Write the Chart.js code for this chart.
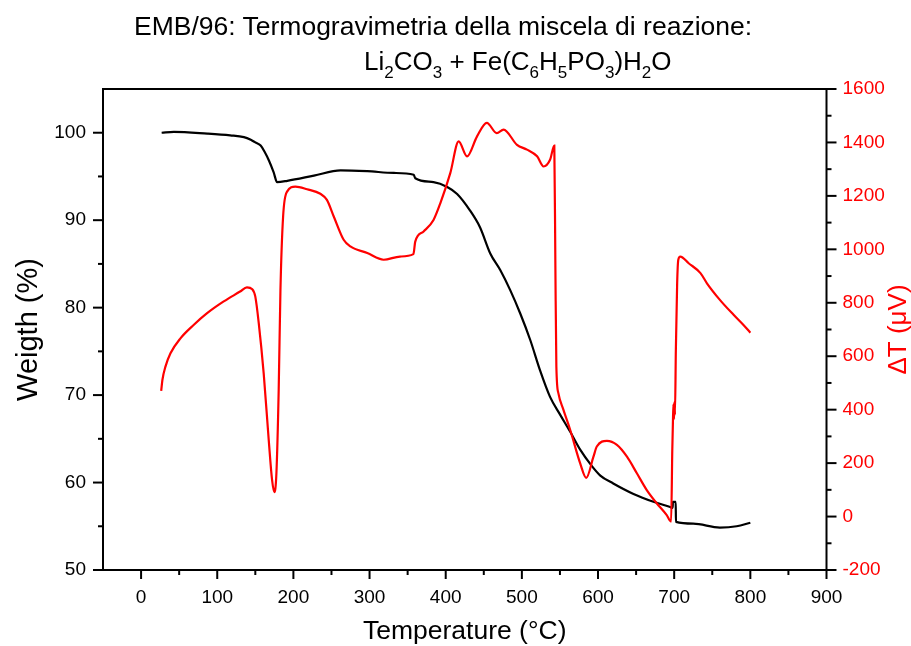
<!DOCTYPE html>
<html>
<head>
<meta charset="utf-8">
<title>EMB/96 - Termogravimetria</title>
<script src="https://cdn.jsdelivr.net/npm/chart.js"></script>
<style>
  body { margin: 0; background: #fff; }
  #wrap { position: relative; width: 911px; height: 646px; }
  #tga { display: block; }
  .titolo {
    position: absolute;
    font-family: "Liberation Sans", Arial, sans-serif;
    font-size: 26.5px;
    line-height: 26px;
    color: #000;
    white-space: nowrap;
  }
  .titolo sub { font-size: 17px; vertical-align: -8px; line-height: 0; }
</style>
</head>
<body>
<div id="wrap">
  <canvas id="tga" width="911" height="646"></canvas>
  <div class="titolo" style="left:134px; top:13px">EMB/96: Termogravimetria della miscela di reazione:</div>
  <div class="titolo" style="left:364px; top:48px; font-size:26px">Li<sub>2</sub>CO<sub>3</sub> + Fe(C<sub>6</sub>H<sub>5</sub>PO<sub>3</sub>)H<sub>2</sub>O</div>
</div>

<script>
// curva TG (peso %)
const temperaturaTG = [27, 43, 87, 117, 135, 144, 150, 157, 162, 168, 174, 178.6, 192, 227, 262, 297, 332, 358, 360,
  384, 402, 415, 432, 445, 458.5, 471.6, 484.7, 498, 511, 524, 537, 550, 563.5, 577, 590, 603, 620, 646.6, 672.8,
  694.7, 698, 698.3, 702, 702.3, 725, 760, 782, 800];
const pesoTG = [100.0, 100.1, 99.9, 99.7, 99.5, 99.2, 98.9, 98.55, 97.85, 96.8, 95.5, 94.35, 94.5, 95.1, 95.7, 95.6, 95.4, 95.2, 94.8,
  94.35, 93.8, 93.0, 91.1, 89.2, 86.2, 84.3, 82.0, 79.3, 76.3, 72.8, 69.8, 67.8, 65.8, 63.7, 62.1, 60.8, 59.9, 58.7, 57.8,
  57.2, 57.1, 57.8, 57.8, 55.5, 55.3, 54.85, 55.0, 55.4];

// curva DTA (delta T, microvolt)
const temperaturaDTA = [26.4, 28, 32, 38.6, 51.7, 69, 86.7, 108.5, 130, 139, 146, 150, 154.5, 161, 167.6, 172, 175, 177.7,
  180.7, 183, 186.5, 191.7, 202.6, 218, 235.4, 244, 253, 266, 274.8, 297, 318.5, 340, 357.6, 360, 371, 384, 393, 406, 417,
  428, 441, 454, 467, 476, 493.6, 506.7, 520, 528.5, 537, 542.6, 544, 545.3, 548, 554.6, 563.5, 576.6, 584.5, 594, 598.4,
  611.7, 624.8, 638, 651, 664, 677, 690, 696, 697.5, 698.3, 699, 699.8, 700.5, 701, 702.2, 703.9, 705.4, 708, 719, 734.5,
  743, 760, 778, 791, 800];
const deltaT = [470, 511, 561, 611, 667, 717, 761, 805, 842, 858, 851, 823, 724, 536, 287, 137, 91, 162,
  474, 848, 1123, 1216, 1235, 1225, 1208, 1185, 1123, 1036, 1011, 986, 961, 973, 982, 1029, 1067, 1110, 1173, 1285, 1404,
  1348, 1422, 1473, 1435, 1448, 1391, 1373, 1348, 1310, 1335, 1388, 936, 561, 461, 399, 324, 199, 145, 224, 262,
  283, 268, 224, 162, 99, 50, 6, -19, 248, 349, 420, 365, 430, 380, 624, 873, 961, 973, 948, 911,
  873, 811, 755, 717, 688];

// tacche principali degli assi
const tickTemp = [0, 100, 200, 300, 400, 500, 600, 700, 800, 900];
const tickPeso = [50, 60, 70, 80, 90, 100];
const tickDT = [-200, 0, 200, 400, 600, 800, 1000, 1200, 1400, 1600];

const FONT = '"Liberation Sans", Arial, sans-serif';
const ROSSO = '#ff0000';

// tacche secondarie a metà fra le principali, entro i limiti dell'asse
function minori(maggiori, min, max) {
  const passo = maggiori[1] - maggiori[0];
  const out = [];
  maggiori.forEach(v => {
    const m = v + passo / 2;
    if (m > min && m < max) out.push(m);
  });
  return out;
}

// cornice e tacche stile Origin
const cornice = {
  id: 'cornice',
  afterDatasetsDraw(chart) {
    const { ctx, chartArea: a, scales } = chart;
    const segno = (x1, y1, x2, y2) => {
      ctx.beginPath(); ctx.moveTo(x1, y1); ctx.lineTo(x2, y2); ctx.stroke();
    };
    ctx.save();
    ctx.strokeStyle = '#000';
    ctx.lineWidth = 2;
    ctx.lineCap = 'square';
    ctx.strokeRect(a.left, a.top, a.right - a.left, a.bottom - a.top);

    const x = scales.x, yp = scales.yPeso, yd = scales.yDT;
    ctx.lineCap = 'butt';
    tickTemp.forEach(v => { const p = x.getPixelForValue(v); segno(p, a.bottom, p, a.bottom + 9); });
    minori(tickTemp, x.min, x.max).forEach(v => { const p = x.getPixelForValue(v); segno(p, a.bottom, p, a.bottom + 5); });
    tickPeso.forEach(v => { const p = yp.getPixelForValue(v); segno(a.left - 10, p, a.left, p); });
    minori(tickPeso, yp.min, yp.max).forEach(v => { const p = yp.getPixelForValue(v); segno(a.left - 5, p, a.left, p); });
    tickDT.forEach(v => { const p = yd.getPixelForValue(v); segno(a.right, p, a.right + 10, p); });
    minori(tickDT, yd.min, yd.max).forEach(v => { const p = yd.getPixelForValue(v); segno(a.right, p, a.right + 5, p); });

    // titolo asse destro, ruotato come quello sinistro
    ctx.translate(899, (a.top + a.bottom) / 2);
    ctx.rotate(-Math.PI / 2);
    ctx.fillStyle = ROSSO;
    ctx.font = '26px ' + FONT;
    ctx.textAlign = 'center';
    ctx.textBaseline = 'middle';
    ctx.fillText('ΔT (μV)', 0, 0);
    ctx.restore();
  }
};

const fissaTicks = valori => scale => { scale.ticks = valori.map(v => ({ value: v })); };
const senzaMigliaia = v => String(v);

new Chart(document.getElementById('tga'), {
  type: 'line',
  data: {
    datasets: [{
      label: 'Peso',
      data: temperaturaTG.map((t, i) => ({ x: t, y: pesoTG[i] })),
      yAxisID: 'yPeso',
      borderColor: '#000',
      borderWidth: 2.2,
      pointRadius: 0,
      cubicInterpolationMode: 'monotone',
      order: 2
    }, {
      label: 'ΔT',
      data: temperaturaDTA.map((t, i) => ({ x: t, y: deltaT[i] })),
      yAxisID: 'yDT',
      borderColor: ROSSO,
      borderWidth: 2.2,
      pointRadius: 0,
      cubicInterpolationMode: 'monotone',
      order: 1
    }]
  },
  options: {
    responsive: false,
    animation: false,
    devicePixelRatio: 1,
    layout: { padding: { top: 89, left: 0, right: 0, bottom: 0 } },
    plugins: { legend: { display: false }, tooltip: { enabled: false } },
    scales: {
      x: {
        type: 'linear',
        position: 'bottom',
        min: -50,
        max: 900,
        afterBuildTicks: fissaTicks(tickTemp),
        afterFit: s => { s.height = 76; },
        grid: { display: false, drawTicks: false },
        border: { display: false },
        ticks: { color: '#000', font: { family: FONT, size: 19 }, padding: 16, maxRotation: 0, autoSkip: false, callback: senzaMigliaia },
        title: { display: true, text: 'Temperature (°C)', color: '#000', font: { family: FONT, size: 26.5, lineHeight: 1 }, padding: { top: 0, bottom: 1 } }
      },
      yPeso: {
        type: 'linear',
        position: 'left',
        min: 50,
        max: 105,
        afterBuildTicks: fissaTicks(tickPeso),
        afterFit: s => { s.width = 103; },
        grid: { display: false, drawTicks: false },
        border: { display: false },
        ticks: { color: '#000', font: { family: FONT, size: 19 }, padding: 17, callback: senzaMigliaia },
        title: { display: true, text: 'Weigth (%)', color: '#000', font: { family: FONT, size: 29, lineHeight: 1 }, padding: { top: 14, bottom: 0 } }
      },
      yDT: {
        type: 'linear',
        position: 'right',
        min: -200,
        max: 1600,
        afterBuildTicks: fissaTicks(tickDT),
        afterFit: s => { s.width = 84.5; },
        grid: { display: false, drawTicks: false },
        border: { display: false },
        ticks: { color: ROSSO, font: { family: FONT, size: 19 }, padding: 16, callback: senzaMigliaia }
      }
    }
  },
  plugins: [cornice]
});
</script>
</body>
</html>
